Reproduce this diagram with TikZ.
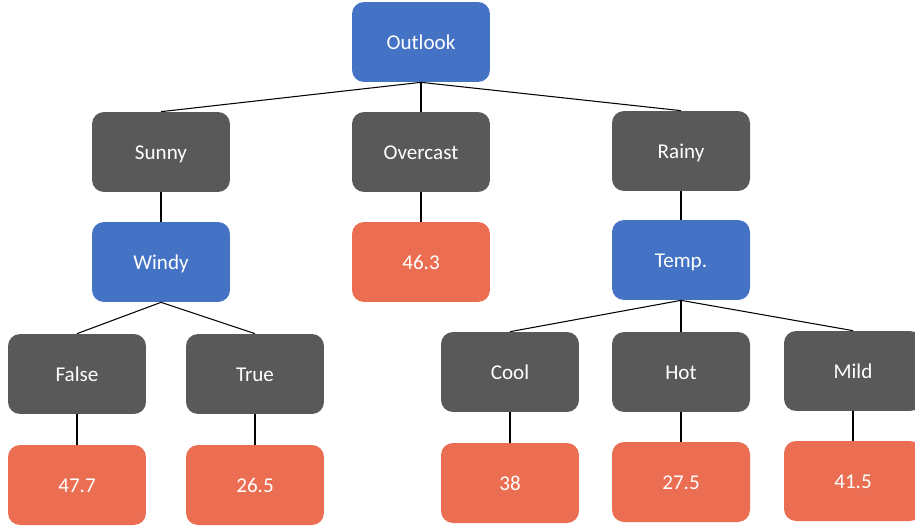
\documentclass[tikz,border=0pt]{standalone}
\usepackage{fontspec}
\setmainfont{Carlito}
\definecolor{splitblue}{HTML}{4472C4}
\definecolor{valgray}{HTML}{595959}
\definecolor{leaforange}{HTML}{EC6E52}
\begin{document}
\begin{tikzpicture}[x=0.02cm, y=-0.02cm,
  box/.style={rectangle, rounded corners=0.24cm, minimum width=2.76cm, minimum height=1.6cm, text height=8.8pt, text depth=0pt, text=white, font=\fontsize{12}{14}\selectfont},
  split/.style={box, fill=splitblue},
  branch/.style={box, fill=valgray},
  leaf/.style={box, fill=leaforange},
  edge/.style={draw=black, line width=0.6pt}]
\useasboundingbox (0,0) rectangle (915,527);

% root
\node[split] (outlook) at (421,42) {Outlook};

\node[branch] (sunny) at (161,152) {Sunny};
\node[branch] (overcast) at (421,152) {Overcast};
\node[branch] (rainy) at (681,151) {Rainy};
\draw[edge] (outlook.south) -- (sunny.north);
\draw[edge] (outlook.south) -- (overcast.north);
\draw[edge] (outlook.south) -- (rainy.north);

% left one
\node[split] (windy) at (161,262) {Windy};
\draw[edge] (sunny.south) -- (windy.north);

\node[branch] (false) at (77,374) {False};
\node[branch] (true) at (255,374) {True};
\draw[edge] (windy.south) -- (false.north);
\draw[edge] (windy.south) -- (true.north);

\node[leaf] (v477) at (77,485) {47.7};
\node[leaf] (v265) at (255,485) {26.5};
\draw[edge] (false.south) -- (v477.north);
\draw[edge] (true.south) -- (v265.north);

% middle one
\node[leaf] (v463) at (421,262) {46.3};
\draw[edge] (overcast.south) -- (v463.north);

% right one
\node[split] (temp) at (681,260) {Temp.};
\draw[edge] (rainy.south) -- (temp.north);

\node[branch] (cool) at (510,372) {Cool};
\node[branch] (hot) at (681,372) {Hot};
\node[branch] (mild) at (853,371) {Mild};
\draw[edge] (temp.south) -- (cool.north);
\draw[edge] (temp.south) -- (hot.north);
\draw[edge] (temp.south) -- (mild.north);

\node[leaf] (v38) at (510,483) {38};
\node[leaf] (v275) at (681,482) {27.5};
\node[leaf] (v415) at (853,481) {41.5};
\draw[edge] (cool.south) -- (v38.north);
\draw[edge] (hot.south) -- (v275.north);
\draw[edge] (mild.south) -- (v415.north);

\end{tikzpicture}
\end{document}
